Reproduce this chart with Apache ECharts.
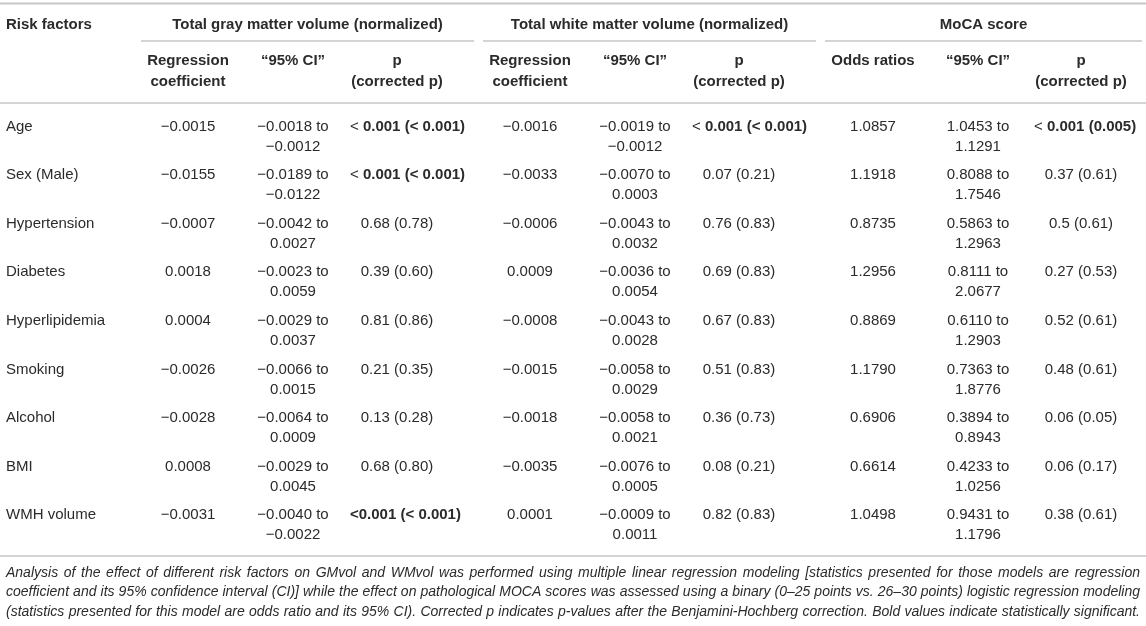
<!DOCTYPE html>
<html>
<head>
<meta charset="utf-8">
<script src="https://cdn.jsdelivr.net/npm/echarts@6/dist/echarts.min.js"></script>
<style>
  html, body { margin: 0; padding: 0; background: #fff; }
  #main { width: 1146px; height: 626px; }
</style>
</head>
<body>
<div id="main"></div>
<script>
// ---- table data ----
const riskFactors = ['Age', 'Sex (Male)', 'Hypertension', 'Diabetes', 'Hyperlipidemia', 'Smoking', 'Alcohol', 'BMI', 'WMH volume'];

const gmCoef = [-0.0015, -0.0155, -0.0007, 0.0018, 0.0004, -0.0026, -0.0028, 0.0008, -0.0031];
const gmLow = [-0.0018, -0.0189, -0.0042, -0.0023, -0.0029, -0.0066, -0.0064, -0.0029, -0.0040];
const gmHigh = [-0.0012, -0.0122, 0.0027, 0.0059, 0.0037, 0.0015, 0.0009, 0.0045, -0.0022];
const gmP = ['< 0.001 (< 0.001)', '< 0.001 (< 0.001)', '0.68 (0.78)', '0.39 (0.60)', '0.81 (0.86)', '0.21 (0.35)', '0.13 (0.28)', '0.68 (0.80)', '<0.001 (< 0.001)'];
const gmSig = [1, 1, 0, 0, 0, 0, 0, 0, 1];

const wmCoef = [-0.0016, -0.0033, -0.0006, 0.0009, -0.0008, -0.0015, -0.0018, -0.0035, 0.0001];
const wmLow = [-0.0019, -0.0070, -0.0043, -0.0036, -0.0043, -0.0058, -0.0058, -0.0076, -0.0009];
const wmHigh = [-0.0012, 0.0003, 0.0032, 0.0054, 0.0028, 0.0029, 0.0021, 0.0005, 0.0011];
const wmP = ['< 0.001 (< 0.001)', '0.07 (0.21)', '0.76 (0.83)', '0.69 (0.83)', '0.67 (0.83)', '0.51 (0.83)', '0.36 (0.73)', '0.08 (0.21)', '0.82 (0.83)'];
const wmSig = [1, 0, 0, 0, 0, 0, 0, 0, 0];

const mocaOR = [1.0857, 1.1918, 0.8735, 1.2956, 0.8869, 1.1790, 0.6906, 0.6614, 1.0498];
const mocaLow = [1.0453, 0.8088, 0.5863, 0.8111, 0.6110, 0.7363, 0.3894, 0.4233, 0.9431];
const mocaHigh = [1.1291, 1.7546, 1.2963, 2.0677, 1.2903, 1.8776, 0.8943, 1.0256, 1.1796];
const mocaP = ['< 0.001 (0.005)', '0.37 (0.61)', '0.5 (0.61)', '0.27 (0.53)', '0.52 (0.61)', '0.48 (0.61)', '0.06 (0.05)', '0.06 (0.17)', '0.38 (0.61)'];
const mocaSig = [1, 0, 0, 0, 0, 0, 0, 0, 0];

const groupTitles = ['Total gray matter volume (normalized)', 'Total white matter volume (normalized)', 'MoCA score'];
const subHeaders = [
  ['Regression', 'coefficient'], ['\u201c95% CI\u201d'], ['p', '(corrected p)'],
  ['Regression', 'coefficient'], ['\u201c95% CI\u201d'], ['p', '(corrected p)'],
  ['Odds ratios'], ['\u201c95% CI\u201d'], ['p', '(corrected p)']
];
const footnoteLines = [
  'Analysis of the effect of different risk factors on GMvol and WMvol was performed using multiple linear regression modeling [statistics presented for those models are regression',
  'coefficient and its 95% confidence interval (CI)] while the effect on pathological MOCA scores was assessed using a binary (0\u201325 points vs. 26\u201330 points) logistic regression modeling',
  '(statistics presented for this model are odds ratio and its 95% CI). Corrected p indicates p-values after the Benjamini-Hochberg correction. Bold values indicate statistically significant.'
];

// ---- layout ----
const W = 1146;
const colX = [188, 293, 397, 530, 635, 739, 873, 978, 1081];
const pBox = 94;
const groupSpans = [[141, 474], [483, 816], [825, 1142]];
const ruleColor = '#c6c6c6';
const ink = '#2b2b2b';
const fam = '"Liberation Sans", Arial, sans-serif';
const regFont = '15px ' + fam;
const boldFont = 'bold 15px ' + fam;

const measureCtx = document.createElement('canvas').getContext('2d');
function textWidth(str, font) {
  measureCtx.font = font;
  return measureCtx.measureText(str).width;
}

function fmt(v) {
  return (v < 0 ? '\u2212' : '') + Math.abs(v).toFixed(4);
}

// build cell list from data arrays
const groups = [
  { coef: gmCoef, low: gmLow, high: gmHigh, p: gmP, sig: gmSig },
  { coef: wmCoef, low: wmLow, high: wmHigh, p: wmP, sig: wmSig },
  { coef: mocaOR, low: mocaLow, high: mocaHigh, p: mocaP, sig: mocaSig }
];
const cells = [];
riskFactors.forEach(function (name, r) {
  cells.push({ kind: 'name', x: 0, row: r, text: name });
  groups.forEach(function (g, k) {
    cells.push({ kind: 'num', x: colX[k * 3], row: r, text: fmt(g.coef[r]) });
    cells.push({ kind: 'num', x: colX[k * 3 + 1], row: r, text: fmt(g.low[r]) + ' to\n' + fmt(g.high[r]) });
    cells.push({ kind: 'p', x: colX[k * 3 + 2], row: r, text: g.p[r], bold: !!g.sig[r] });
  });
});

function renderCell(params, api) {
  const c = cells[params.dataIndex];
  const pt = api.coord([api.value(0), api.value(1)]);
  const style = { fill: ink, font: regFont, lineHeight: 20, verticalAlign: 'top', align: 'center' };
  let x = pt[0];
  if (c.kind === 'name') {
    x = 6;
    style.align = 'left';
    style.text = c.text;
  } else if (c.kind === 'num') {
    style.text = c.text;
  } else {
    let w;
    if (c.bold) {
      const lead = c.text.indexOf('< ') === 0 ? '< ' : '';
      const rest = c.text.slice(lead.length);
      style.text = (lead ? '{n|' + lead + '}' : '') + '{b|' + rest + '}';
      style.rich = {
        n: { font: regFont, fill: ink, lineHeight: 20 },
        b: { font: boldFont, fill: ink, lineHeight: 20 }
      };
      w = textWidth(lead, regFont) + textWidth(rest, boldFont);
    } else {
      style.text = c.text;
      w = textWidth(c.text, regFont);
    }
    if (w > pBox) {
      x = pt[0] - pBox / 2;
      style.align = 'left';
    }
  }
  return { type: 'text', x: x, y: pt[1] - 20, style: style };
}

// ---- header / rules / footnote as graphic ----
const graphic = [];
function hline(y, x1, x2, lw) {
  graphic.push({ type: 'line', shape: { x1: x1, y1: y, x2: x2, y2: y }, style: { stroke: ruleColor, lineWidth: lw } });
}
function label(text, x, y, align, font) {
  graphic.push({ type: 'text', x: x, y: y, style: { text: text, font: font, fill: ink, align: align, verticalAlign: 'middle' } });
}
hline(3.5, 0, W, 2);
groupSpans.forEach(function (s) { hline(41, s[0], s[1], 1.5); });
hline(103, 0, W, 1.5);
hline(556, 0, W, 1.5);

label('Risk factors', 6, 25, 'left', boldFont);
groupTitles.forEach(function (t, k) {
  label(t, (groupSpans[k][0] + groupSpans[k][1]) / 2, 25, 'center', boldFont);
});
subHeaders.forEach(function (lines, i) {
  lines.forEach(function (t, j) { label(t, colX[i], 61 + j * 21, 'center', boldFont); });
});

// justified italic footnote
const noteFont = 'italic 14px ' + fam;
footnoteLines.forEach(function (line, li) {
  const words = line.split(' ');
  const widths = words.map(function (w) { return textWidth(w, noteFont); });
  const total = widths.reduce(function (a, b) { return a + b; }, 0);
  const left = 6, right = 1140;
  const gap = (right - left - total) / (words.length - 1);
  let x = left;
  words.forEach(function (w, i) {
    graphic.push({ type: 'text', x: x, y: 573 + li * 19.5, style: { text: w, font: noteFont, fill: ink, verticalAlign: 'middle' } });
    x += widths[i] + gap;
  });
});

const chart = echarts.init(document.getElementById('main'));
chart.setOption({
  animation: false,
  grid: { left: 0, right: 0, top: 112.2, bottom: 76.4 },
  xAxis: { type: 'value', min: 0, max: W, show: false },
  yAxis: { type: 'category', data: riskFactors, inverse: true, show: false },
  series: [{
    type: 'custom',
    renderItem: renderCell,
    data: cells.map(function (c) { return [c.x, c.row]; }),
    silent: true
  }],
  graphic: graphic
});
</script>
</body>
</html>
